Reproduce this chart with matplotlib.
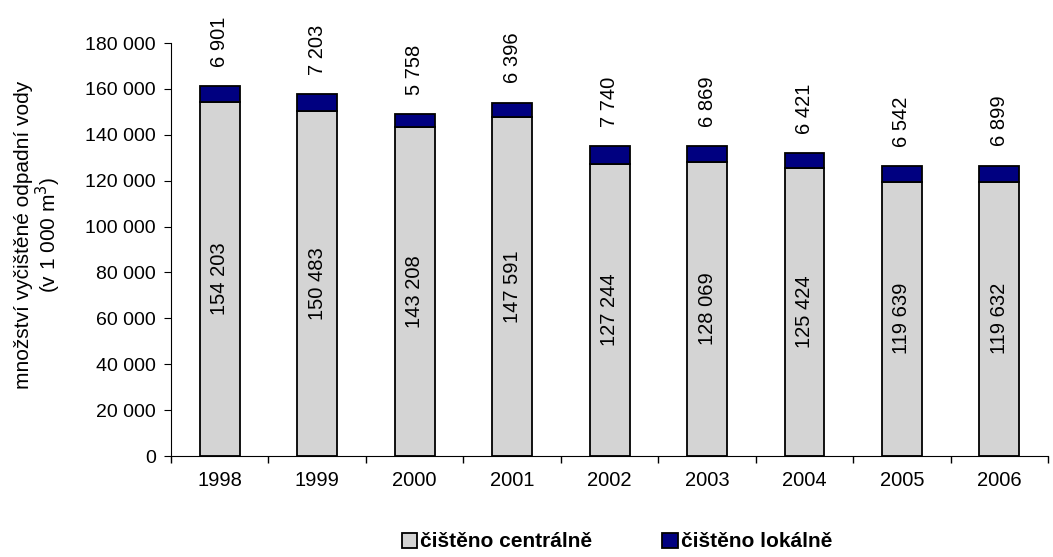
import matplotlib
matplotlib.use("Agg")
import matplotlib.pyplot as plt
import numpy as np
from matplotlib.ticker import FuncFormatter, FixedLocator

plt.rcParams['font.family'] = ['Liberation Sans', 'DejaVu Sans']

years = ['1998', '1999', '2000', '2001', '2002', '2003', '2004', '2005', '2006']
central = [154203, 150483, 143208, 147591, 127244, 128069, 125424, 119639, 119632]
local = [6901, 7203, 5758, 6396, 7740, 6869, 6421, 6542, 6899]

def fmt(v):
    return f"{int(v):,}".replace(",", " ")

fig = plt.figure(figsize=(10.53, 5.57), dpi=100)
ax = fig.add_axes([0.1624, 0.1813, 0.833, 0.7415])

x = np.arange(len(years)) + 0.5
w = 0.41
b1 = ax.bar(x, central, w, color='#D4D4D4', edgecolor='black', linewidth=1.3,
            label='čištěno centrálně')
b2 = ax.bar(x, local, w, bottom=central, color='#000080', edgecolor='black',
            linewidth=1.3, label='čištěno lokálně')

for xi, c, l in zip(x, central, local):
    ax.text(xi, c / 2, fmt(c), rotation=90, ha='center', va='center', fontsize=14.5)
    ax.annotate(fmt(l), (xi, c + l), xytext=(0, 14), textcoords='offset points',
                rotation=90, ha='center', va='bottom', fontsize=14.5)

ax.set_xlim(0, len(years))
ax.set_ylim(0, 180000)
ax.set_yticks(np.arange(0, 180001, 20000))
ax.yaxis.set_major_formatter(FuncFormatter(lambda v, p: fmt(v)))
ax.xaxis.set_major_locator(FixedLocator(np.arange(len(years) + 1)))
ax.xaxis.set_minor_locator(FixedLocator(x))
ax.set_xticklabels([], minor=False)
ax.set_xticklabels(years, minor=True)
ax.tick_params(axis='x', which='major', length=5, direction='out', width=1)
ax.tick_params(axis='x', which='minor', length=0, pad=11, labelsize=14.5)
ax.tick_params(axis='y', length=5, direction='out', pad=6, labelsize=14)

for s in ['top', 'right']:
    ax.spines[s].set_visible(False)
ax.spines['left'].set_color('black')
ax.spines['bottom'].set_color('black')

ax.set_ylabel('množství vyčištěné odpadní vody\n(v 1 000 m$^3$)', fontsize=15,
              linespacing=1.05)
ax.yaxis.set_label_coords(-0.123, 0.535)

leg = fig.legend(handles=[b1, b2], loc='center', bbox_to_anchor=(0.586, 0.027),
                 ncol=2, frameon=False, prop={'weight': 'bold', 'size': 15},
                 handlelength=0.75, handleheight=0.75, handletextpad=0.15,
                 columnspacing=3.35)

fig.savefig('out.png', dpi=100)
